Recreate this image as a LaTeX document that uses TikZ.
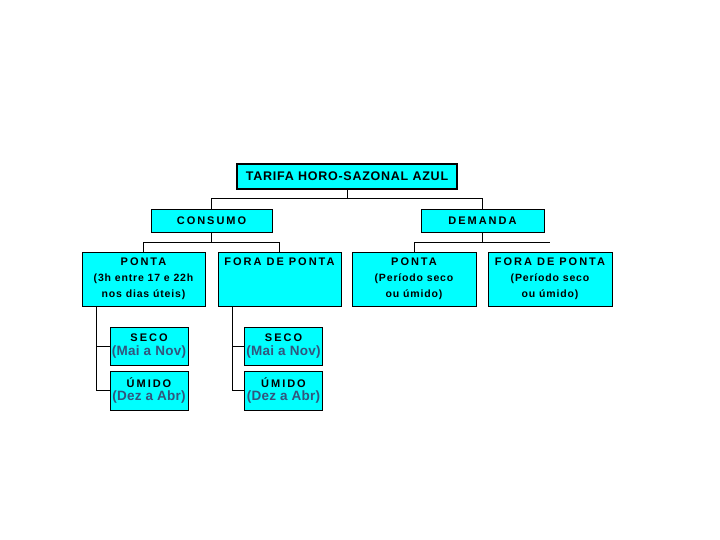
\documentclass[tikz,border=0pt]{standalone}
\usepackage{fontspec}
\setmainfont{Liberation Sans}
\newfontfamily\titfont[LetterSpace=6]{Liberation Sans}
\newfontfamily\rotfont[LetterSpace=18]{Liberation Sans}
\newfontfamily\detfont[LetterSpace=8]{Liberation Sans}
\newfontfamily\mesfont[LetterSpace=2]{Liberation Sans}
\usetikzlibrary{calc,shadows}
\definecolor{ciano}{RGB}{0,255,255}
\definecolor{mesazul}{RGB}{50,85,125}
\newcommand{\detalhe}[1]{{\detfont\bfseries\fontsize{10.5}{16}\selectfont #1}}
\newcommand{\mes}[1]{{\mesfont\fontsize{13.5}{13.5}\selectfont\color{mesazul}#1}}

\begin{document}
\begin{tikzpicture}[x=1pt, y=-1pt,
    caixa/.style={draw=black, fill=ciano, line width=0.8pt, inner sep=0pt, align=center},
    titulo/.style={caixa, line width=1.8pt, minimum width=220pt, minimum height=25pt,
        drop shadow={shadow xshift=1.2pt, shadow yshift=-1.2pt, opacity=1, fill=black},
        font=\titfont\bfseries\fontsize{12.5}{15}\selectfont},
    topo/.style={caixa, minimum height=23pt, font=\rotfont\bfseries\fontsize{11}{12}\selectfont},
    periodo/.style={caixa, minimum width=123pt, minimum height=54pt, font=\rotfont\bfseries\fontsize{11}{16}\selectfont},
    estacao/.style={caixa, minimum width=78pt, font=\rotfont\bfseries\fontsize{11}{13.5}\selectfont},
    linha/.style={draw=black, line width=0.8pt}]
    \useasboundingbox (0,0) rectangle (720,540);

    \node[titulo] (tarifa) at (347,176.5) {TARIFA HORO-SAZONAL AZUL};
    \node[topo, minimum width=121pt] (consumo) at (211.5,220.5) {CONSUMO};
    \node[topo, minimum width=123pt] (demanda) at (482.5,220.5) {DEMANDA};

    \node[periodo] (cponta) at (143.5,279) {PONTA\\\detalhe{(3h entre 17 e 22h}\\\detalhe{nos dias úteis)}};
    \node[periodo] (cfora) at (279.5,279) {FORA DE PONTA\\\phantom{(x}\\\phantom{x)}};
    \node[periodo, minimum width=124pt] (dponta) at (414,279) {PONTA\\\detalhe{(Período seco}\\\detalhe{ou úmido)}};
    \node[periodo, minimum width=124pt] (dfora) at (550,279) {FORA DE PONTA\\\detalhe{(Período seco}\\\detalhe{ou úmido)}};

    \node[estacao, minimum height=38pt] (cseco) at (149,346) {SECO\\\mes{(Mai a Nov)}};
    \node[estacao, minimum height=39pt] (cumido) at (149,390.5) {ÚMIDO\\\mes{(Dez a Abr)}};
    \node[estacao, minimum height=38pt] (fseco) at (283.5,346) {SECO\\\mes{(Mai a Nov)}};
    \node[estacao, minimum height=39pt] (fumido) at (283.5,390.5) {ÚMIDO\\\mes{(Dez a Abr)}};

    % ligacoes
    \coordinate (tj) at ($(tarifa.south)+(0,9)$);
    \draw[linha] (tarifa.south) -- (tj);
    \draw[linha] (consumo.north) |- (tj) -| (demanda.north);

    \coordinate (cj) at ($(consumo.south)+(0,10)$);
    \draw[linha] (consumo.south) -- (cj);
    \draw[linha] (cponta.north) |- (cj) -| (cfora.north);

    \coordinate (dj) at ($(demanda.south)+(0,10)$);
    \coordinate (dfim) at (dj -| dfora.north);
    \draw[linha] (demanda.south) -- (dj);
    \draw[linha] (dponta.north) |- (dj) -- (dfim);

    \coordinate (ct) at ($(cponta.south west)+(15,0)$);
    \draw[linha] (ct) |- (cumido.west);
    \draw[linha] (cseco.west -| ct) -- (cseco.west);
    \coordinate (ft) at ($(cfora.south west)+(15,0)$);
    \draw[linha] (ft) |- (fumido.west);
    \draw[linha] (fseco.west -| ft) -- (fseco.west);
\end{tikzpicture}
\end{document}
